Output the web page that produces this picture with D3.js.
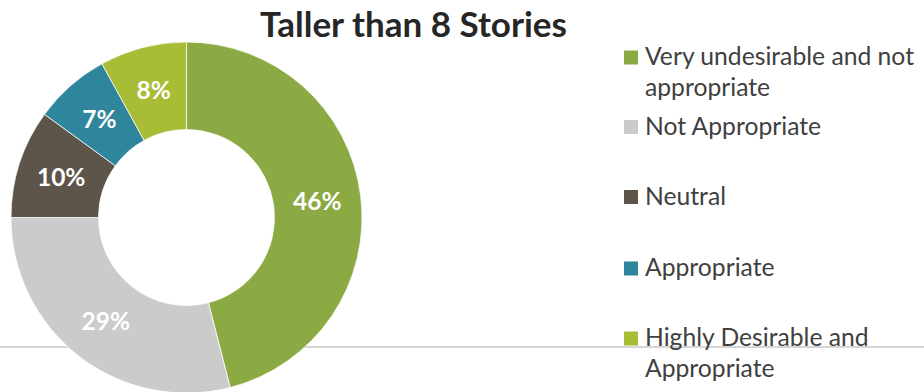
<!DOCTYPE html>
<html><head><meta charset="utf-8">
<script src="https://cdn.jsdelivr.net/npm/d3@7"></script>
<style>html,body{margin:0;padding:0;background:#fff;}svg{display:block;}</style>
</head><body>
<svg id="c" width="924" height="392"></svg>
<script>
const title = "Taller than 8 Stories";
const categories = ["Very undesirable and not appropriate", "Not Appropriate", "Neutral", "Appropriate", "Highly Desirable and Appropriate"];
const values = [46, 29, 10, 7, 8];
const legendLines = [["Very undesirable and not", "appropriate"], ["Not Appropriate"], ["Neutral"], ["Appropriate"], ["Highly Desirable and", "Appropriate"]];
const colors = ["#8BAA44", "#CBCBCB", "#5D554A", "#2E859C", "#A8BD35"];

const svg = d3.select("#c");
const font = "Lato, 'Open Sans', sans-serif";

// separator line behind the chart
svg.append("line").attr("x1", 0).attr("x2", 924).attr("y1", 347).attr("y2", 347)
  .attr("stroke", "#d6d6d6").attr("stroke-width", 2);

const cx = 186.5, cy = 217.5, rOut = 175.5, rIn = 88;
const pie = d3.pie().sort(null).value(d => d)(values);
const arc = d3.arc().innerRadius(rIn).outerRadius(rOut);
const labelArc = d3.arc().innerRadius((rIn + rOut) / 2).outerRadius((rIn + rOut) / 2);
const g = svg.append("g").attr("transform", `translate(${cx},${cy})`);
g.selectAll("path").data(pie).join("path")
  .attr("d", arc).attr("fill", (d, i) => colors[i])
  .attr("stroke", "#fff").attr("stroke-width", 0.75);
g.selectAll("text").data(pie).join("text")
  .attr("transform", d => `translate(${labelArc.centroid(d)})`)
  .attr("text-anchor", "middle").attr("dy", "0.36em")
  .attr("fill", "#fff").attr("font-family", font).attr("font-weight", "bold")
  .attr("font-size", 24.5)
  .text(d => d3.format(".0f")(d.data) + "%");

// title
svg.append("text").attr("x", 413.5).attr("y", 37).attr("text-anchor", "middle")
  .attr("font-family", font).attr("font-weight", "bold").attr("font-size", 35)
  .attr("fill", "#262626").text(title);

// legend
const legendY = [57.5, 127, 197, 268.5, 338.5];
const lg = svg.append("g");
const items = lg.selectAll("g").data(categories).join("g")
  .attr("transform", (d, i) => `translate(624,${legendY[i]})`);
items.append("rect").attr("x", 0).attr("y", -7).attr("width", 14).attr("height", 14)
  .attr("fill", (d, i) => colors[i]);
const txt = items.append("text").attr("font-family", font).attr("font-size", 24.7).attr("fill", "#404040");
txt.selectAll("tspan").data((d, i) => legendLines[i]).join("tspan")
  .attr("x", 21).attr("y", (d, j) => 7.5 + j * 31).text(d => d);
</script>
</body></html>
